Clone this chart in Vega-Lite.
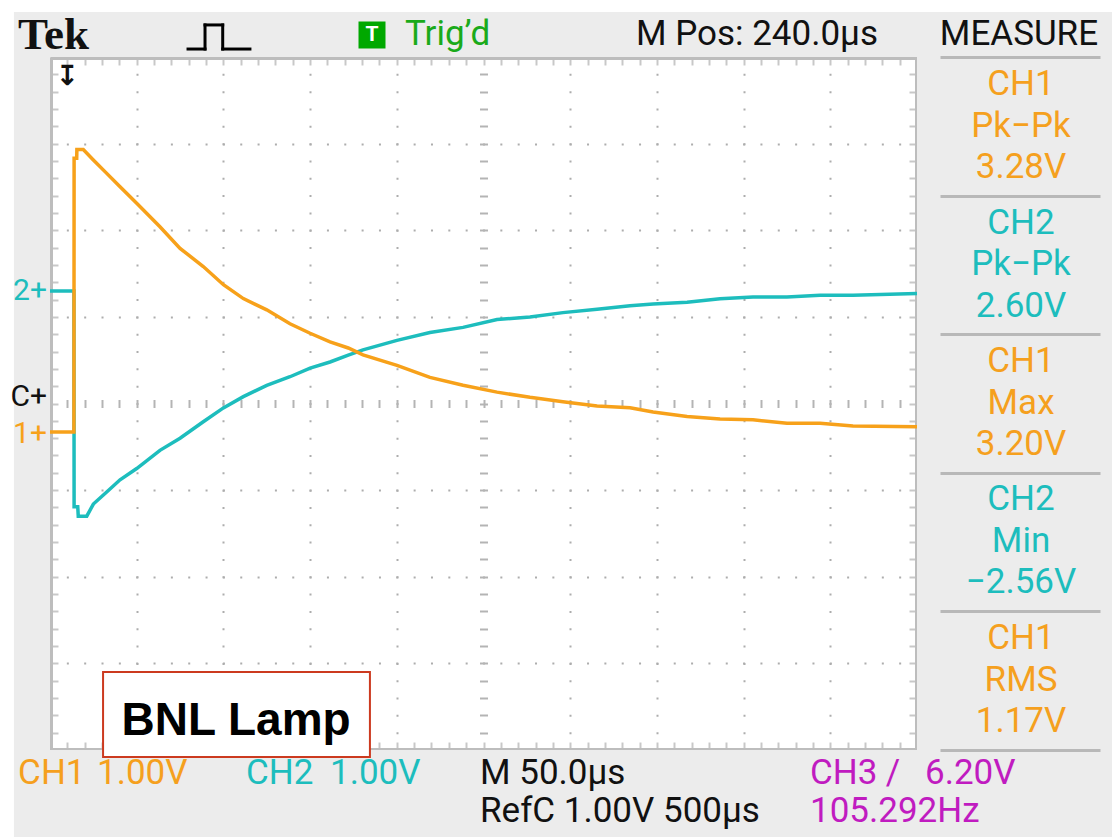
{
"$schema": "https://vega.github.io/schema/vega-lite/v6.json",
"width": 867,
"height": 693,
"autosize": {"type": "none"},
"padding": {"left": 50, "top": 57, "right": 195, "bottom": 87},
"background": "#ffffff",
"config": {"view": {"stroke": null, "fill": "#ffffff"}, "axis": {"labels": false, "grid": false, "domain": false, "ticks": false}},
"data": {"values": [{}]},
"datasets": {
"ch1": [
{"t": -10, "v": 0}, {"t": 3.8, "v": 0}, {"t": 3.9, "v": 3.16}, {"t": 5.4, "v": 3.16}, {"t": 5.5, "v": 3.26}, {"t": 9.2, "v": 3.26},
{"t": 15.0, "v": 3.14}, {"t": 22.0, "v": 3.00}, {"t": 30.4, "v": 2.83}, {"t": 40.0, "v": 2.64}, {"t": 53.4, "v": 2.37},
{"t": 65.0, "v": 2.12}, {"t": 78.4, "v": 1.91}, {"t": 90.0, "v": 1.70}, {"t": 101.5, "v": 1.54}, {"t": 115.0, "v": 1.41},
{"t": 128.4, "v": 1.25}, {"t": 140.0, "v": 1.14}, {"t": 151.5, "v": 1.04}, {"t": 162.0, "v": 0.97}, {"t": 170.5, "v": 0.89},
{"t": 190.1, "v": 0.77}, {"t": 209.1, "v": 0.63}, {"t": 228.2, "v": 0.54}, {"t": 247.8, "v": 0.46}, {"t": 266.8, "v": 0.40},
{"t": 285.8, "v": 0.35}, {"t": 305.5, "v": 0.30}, {"t": 324.5, "v": 0.28}, {"t": 337.8, "v": 0.23}, {"t": 357.4, "v": 0.18},
{"t": 376.4, "v": 0.15}, {"t": 395.4, "v": 0.14}, {"t": 415.0, "v": 0.10}, {"t": 434.1, "v": 0.10}, {"t": 453.1, "v": 0.07},
{"t": 490, "v": 0.06}
],
"ch2": [
{"t": -10, "v": 0}, {"t": 3.8, "v": 0}, {"t": 3.9, "v": -2.49}, {"t": 6.0, "v": -2.49}, {"t": 6.3, "v": -2.60}, {"t": 11.2, "v": -2.60},
{"t": 15.0, "v": -2.46}, {"t": 22.7, "v": -2.32}, {"t": 30.4, "v": -2.18}, {"t": 40.0, "v": -2.05}, {"t": 53.4, "v": -1.84},
{"t": 65.0, "v": -1.70}, {"t": 78.4, "v": -1.51}, {"t": 90.0, "v": -1.35}, {"t": 101.5, "v": -1.22}, {"t": 115.0, "v": -1.09},
{"t": 128.4, "v": -0.99}, {"t": 140.0, "v": -0.89}, {"t": 151.5, "v": -0.82}, {"t": 162.0, "v": -0.74}, {"t": 170.5, "v": -0.68},
{"t": 190.1, "v": -0.57}, {"t": 209.1, "v": -0.48}, {"t": 228.2, "v": -0.42}, {"t": 247.8, "v": -0.33}, {"t": 266.8, "v": -0.30},
{"t": 285.8, "v": -0.25}, {"t": 305.5, "v": -0.21}, {"t": 324.5, "v": -0.17}, {"t": 337.8, "v": -0.15}, {"t": 357.4, "v": -0.13},
{"t": 376.4, "v": -0.09}, {"t": 395.4, "v": -0.07}, {"t": 415.0, "v": -0.07}, {"t": 434.1, "v": -0.05}, {"t": 453.1, "v": -0.05},
{"t": 490, "v": -0.03}
],
"labels": [
{"text": "Trig’d", "t": 194.7, "d": 4.139, "ch": "trig", "area": "status"},
{"text": "M Pos: 240.0µs", "t": 327.9, "d": 4.139, "ch": "scope", "area": "status"},
{"text": "CH1", "t": -28.4, "d": -4.393, "ch": "CH1", "area": "status"},
{"text": "1.00V", "t": 17.1, "d": -4.393, "ch": "CH1", "area": "status"},
{"text": "CH2", "t": 103.0, "d": -4.393, "ch": "CH2", "area": "status"},
{"text": "1.00V", "t": 151.5, "d": -4.393, "ch": "CH2", "area": "status"},
{"text": "M 50.0µs", "t": 238.0, "d": -4.393, "ch": "scope", "area": "status"},
{"text": "RefC 1.00V 500µs", "t": 238.0, "d": -4.831, "ch": "scope", "area": "status"},
{"text": "CH3", "t": 428.3, "d": -4.393, "ch": "CH3", "area": "status"},
{"text": "/", "t": 472.0, "d": -4.393, "ch": "CH3", "area": "status"},
{"text": "6.20V", "t": 494.6, "d": -4.393, "ch": "CH3", "area": "status"},
{"text": "105.292Hz", "t": 428.3, "d": -4.831, "ch": "CH3", "area": "status"},
{"text": "MEASURE", "t": 548.8, "d": 4.139, "ch": "scope", "area": "measure"},
{"text": "CH1", "t": 550, "d": 3.561, "ch": "CH1", "area": "measure"},
{"text": "Pk−Pk", "t": 550, "d": 3.077, "ch": "CH1", "area": "measure"},
{"text": "3.28V", "t": 550, "d": 2.603, "ch": "CH1", "area": "measure"},
{"text": "CH2", "t": 550, "d": 1.962, "ch": "CH2", "area": "measure"},
{"text": "Pk−Pk", "t": 550, "d": 1.478, "ch": "CH2", "area": "measure"},
{"text": "2.60V", "t": 550, "d": 1.004, "ch": "CH2", "area": "measure"},
{"text": "CH1", "t": 550, "d": 0.364, "ch": "CH1", "area": "measure"},
{"text": "Max", "t": 550, "d": -0.121, "ch": "CH1", "area": "measure"},
{"text": "3.20V", "t": 550, "d": -0.595, "ch": "CH1", "area": "measure"},
{"text": "CH2", "t": 550, "d": -1.235, "ch": "CH2", "area": "measure"},
{"text": "Min", "t": 550, "d": -1.720, "ch": "CH2", "area": "measure"},
{"text": "−2.56V", "t": 550, "d": -2.193, "ch": "CH2", "area": "measure"},
{"text": "CH1", "t": 550, "d": -2.834, "ch": "CH1", "area": "measure"},
{"text": "RMS", "t": 550, "d": -3.319, "ch": "CH1", "area": "measure"},
{"text": "1.17V", "t": 550, "d": -3.792, "ch": "CH1", "area": "measure"},
{"text": "C+", "t": -10, "d": 0.05, "ch": "scope", "area": "marker"}
]
},
"layer": [
{"mark": {"type": "rect", "fill": "#ececec"},
 "encoding": {
  "x": {"datum": -30.8, "type": "quantitative", "scale": {"domain": [-10, 490], "nice": false, "zero": false}, "axis": null},
  "x2": {"datum": 603},
  "y": {"datum": 4.52, "type": "quantitative", "scale": {"domain": [-4, 4], "nice": false, "zero": false}, "axis": null},
  "y2": {"datum": 4}}},
{"mark": {"type": "rect", "fill": "#ececec"},
 "encoding": {
  "x": {"datum": -30.8, "type": "quantitative", "scale": {"domain": [-10, 490], "nice": false, "zero": false}, "axis": null},
  "x2": {"datum": 603},
  "y": {"datum": -4, "type": "quantitative", "scale": {"domain": [-4, 4], "nice": false, "zero": false}, "axis": null},
  "y2": {"datum": -5.1}}},
{"mark": {"type": "rect", "fill": "#ececec"},
 "encoding": {
  "x": {"datum": -30.8, "type": "quantitative", "scale": {"domain": [-10, 490], "nice": false, "zero": false}, "axis": null},
  "x2": {"datum": -10},
  "y": {"datum": 4, "type": "quantitative", "scale": {"domain": [-4, 4], "nice": false, "zero": false}, "axis": null},
  "y2": {"datum": -4}}},
{"mark": {"type": "rect", "fill": "#ececec"},
 "encoding": {
  "x": {"datum": 490, "type": "quantitative", "scale": {"domain": [-10, 490], "nice": false, "zero": false}, "axis": null},
  "x2": {"datum": 603},
  "y": {"datum": 4, "type": "quantitative", "scale": {"domain": [-4, 4], "nice": false, "zero": false}, "axis": null},
  "y2": {"datum": -4}}},
{"mark": {"type": "point", "opacity": 0},
 "encoding": {
  "x": {"datum": 0, "type": "quantitative", "scale": {"domain": [-10, 490], "nice": false, "zero": false},
   "axis": {"orient": "bottom", "title": null, "grid": true, "values": [40, 90, 140, 190, 290, 340, 390, 440], "gridColor": "#adadad", "gridWidth": 2, "gridDash": [2, 15.325], "gridDashOffset": 1}},
  "y": {"datum": 0, "type": "quantitative", "scale": {"domain": [-4, 4], "nice": false, "zero": false},
   "axis": {"orient": "left", "title": null, "grid": true, "values": [-3, -2, -1, 1, 2, 3], "gridColor": "#adadad", "gridWidth": 2, "gridDash": [2, 15.34], "gridDashOffset": 1}}}},
{"mark": {"type": "point", "opacity": 0},
 "encoding": {
  "x": {"datum": 0, "type": "quantitative", "scale": {"domain": [-10, 490], "nice": false, "zero": false},
   "axis": {"orient": "bottom", "title": null, "offset": -350.5, "ticks": true, "tickSize": 8, "tickWidth": 2, "tickColor": "#b4b4b4",
    "values": [0,10,20,30,40,50,60,70,80,90,100,110,120,130,140,150,160,170,180,190,200,210,220,230,240,250,260,270,280,290,300,310,320,330,340,350,360,370,380,390,400,410,420,430,440,450,460,470,480]}},
  "y": {"datum": 0, "type": "quantitative", "scale": {"domain": [-4, 4], "nice": false, "zero": false},
   "axis": {"orient": "left", "title": null, "offset": -437.5, "ticks": true, "tickSize": 8, "tickWidth": 2, "tickColor": "#b4b4b4",
    "values": [-3.8,-3.6,-3.4,-3.2,-3,-2.8,-2.6,-2.4,-2.2,-2,-1.8,-1.6,-1.4,-1.2,-1,-0.8,-0.6,-0.4,-0.2,0,0.2,0.4,0.6,0.8,1,1.2,1.4,1.6,1.8,2,2.2,2.4,2.6,2.8,3,3.2,3.4,3.6,3.8]}}}},
{"mark": {"type": "point", "opacity": 0},
 "encoding": {
  "x": {"datum": 0, "type": "quantitative", "scale": {"domain": [-10, 490], "nice": false, "zero": false},
   "axis": {"orient": "bottom", "title": null, "domain": true, "domainColor": "#bdbdbd", "domainWidth": 5, "ticks": true, "tickSize": -8, "tickWidth": 2, "tickColor": "#c8c8c8",
    "values": [0,10,20,30,40,50,60,70,80,90,100,110,120,130,140,150,160,170,180,190,200,210,220,230,240,250,260,270,280,290,300,310,320,330,340,350,360,370,380,390,400,410,420,430,440,450,460,470,480]}},
  "y": {"datum": 0, "type": "quantitative", "scale": {"domain": [-4, 4], "nice": false, "zero": false},
   "axis": {"orient": "left", "title": null, "domain": true, "domainColor": "#bdbdbd", "domainWidth": 5, "ticks": true, "tickSize": -8, "tickWidth": 2, "tickColor": "#c8c8c8",
    "values": [-3.8,-3.6,-3.4,-3.2,-3,-2.8,-2.6,-2.4,-2.2,-2,-1.8,-1.6,-1.4,-1.2,-1,-0.8,-0.6,-0.4,-0.2,0,0.2,0.4,0.6,0.8,1,1.2,1.4,1.6,1.8,2,2.2,2.4,2.6,2.8,3,3.2,3.4,3.6,3.8]}}}},
{"mark": {"type": "point", "opacity": 0},
 "encoding": {
  "x": {"datum": 0, "type": "quantitative", "scale": {"domain": [-10, 490], "nice": false, "zero": false},
   "axis": {"orient": "top", "title": null, "domain": true, "domainColor": "#bdbdbd", "domainWidth": 5, "ticks": true, "tickSize": -8, "tickWidth": 2, "tickColor": "#c8c8c8",
    "values": [0,10,20,30,40,50,60,70,80,90,100,110,120,130,140,150,160,170,180,190,200,210,220,230,240,250,260,270,280,290,300,310,320,330,340,350,360,370,380,390,400,410,420,430,440,450,460,470,480]}},
  "y": {"datum": 0, "type": "quantitative", "scale": {"domain": [-4, 4], "nice": false, "zero": false},
   "axis": {"orient": "right", "title": null, "domain": true, "domainColor": "#bdbdbd", "domainWidth": 5, "ticks": true, "tickSize": -8, "tickWidth": 2, "tickColor": "#c8c8c8",
    "values": [-3.8,-3.6,-3.4,-3.2,-3,-2.8,-2.6,-2.4,-2.2,-2,-1.8,-1.6,-1.4,-1.2,-1,-0.8,-0.6,-0.4,-0.2,0,0.2,0.4,0.6,0.8,1,1.2,1.4,1.6,1.8,2,2.2,2.4,2.6,2.8,3,3.2,3.4,3.6,3.8]}}}},
{"mark": {"type": "point", "opacity": 0},
 "encoding": {
  "x": {"datum": 0, "type": "quantitative", "scale": {"domain": [-10, 490], "nice": false, "zero": false}, "axis": null},
  "y": {"datum": 0, "type": "quantitative", "scale": {"domain": [-4, 4], "nice": false, "zero": false},
   "axis": {"orient": "right", "title": null, "offset": 23, "zindex": 1, "ticks": true, "tickSize": 160, "tickWidth": 3, "tickColor": "#b8b8b8", "values": [4, 2.4, 0.8, -0.8, -2.4, -4]}}}},
{"mark": {"type": "rule", "color": "#000000", "strokeWidth": 3, "strokeCap": "square"},
 "encoding": {
  "x": {"datum": 69.6, "type": "quantitative", "scale": {"domain": [-10, 490], "nice": false, "zero": false}, "axis": null},
  "x2": {"datum": 79.4},
  "y": {"datum": 4.092, "type": "quantitative", "scale": {"domain": [-4, 4], "nice": false, "zero": false}, "axis": null}}},
{"mark": {"type": "rule", "color": "#000000", "strokeWidth": 3, "strokeCap": "square"},
 "encoding": {
  "x": {"datum": 79.4, "type": "quantitative", "scale": {"domain": [-10, 490], "nice": false, "zero": false}, "axis": null},
  "y": {"datum": 4.092, "type": "quantitative", "scale": {"domain": [-4, 4], "nice": false, "zero": false}, "axis": null},
  "y2": {"datum": 4.37}}},
{"mark": {"type": "rule", "color": "#000000", "strokeWidth": 3, "strokeCap": "square"},
 "encoding": {
  "x": {"datum": 79.4, "type": "quantitative", "scale": {"domain": [-10, 490], "nice": false, "zero": false}, "axis": null},
  "x2": {"datum": 89.6},
  "y": {"datum": 4.37, "type": "quantitative", "scale": {"domain": [-4, 4], "nice": false, "zero": false}, "axis": null}}},
{"mark": {"type": "rule", "color": "#000000", "strokeWidth": 3, "strokeCap": "square"},
 "encoding": {
  "x": {"datum": 89.6, "type": "quantitative", "scale": {"domain": [-10, 490], "nice": false, "zero": false}, "axis": null},
  "y": {"datum": 4.092, "type": "quantitative", "scale": {"domain": [-4, 4], "nice": false, "zero": false}, "axis": null},
  "y2": {"datum": 4.37}}},
{"mark": {"type": "rule", "color": "#000000", "strokeWidth": 3, "strokeCap": "square"},
 "encoding": {
  "x": {"datum": 89.6, "type": "quantitative", "scale": {"domain": [-10, 490], "nice": false, "zero": false}, "axis": null},
  "x2": {"datum": 105.3},
  "y": {"datum": 4.092, "type": "quantitative", "scale": {"domain": [-4, 4], "nice": false, "zero": false}, "axis": null}}},
{"mark": {"type": "point", "shape": "square", "size": 729, "filled": true, "color": "#00a800", "opacity": 1},
 "encoding": {
  "x": {"datum": 175.7, "type": "quantitative", "scale": {"domain": [-10, 490], "nice": false, "zero": false}, "axis": null},
  "y": {"datum": 4.254, "type": "quantitative", "scale": {"domain": [-4, 4], "nice": false, "zero": false}, "axis": null}}},
{"mark": {"type": "text", "text": "T", "font": "Roboto", "fontWeight": "bold", "fontSize": 21, "align": "center", "baseline": "middle", "color": "#ffffff"},
 "encoding": {
  "x": {"datum": 175.7, "type": "quantitative", "scale": {"domain": [-10, 490], "nice": false, "zero": false}, "axis": null},
  "y": {"datum": 4.254, "type": "quantitative", "scale": {"domain": [-4, 4], "nice": false, "zero": false}, "axis": null}}},
{"mark": {"type": "text", "text": "Tek", "font": "Liberation Serif", "fontWeight": "bold", "fontSize": 45, "align": "left", "baseline": "alphabetic", "color": "#111111"},
 "encoding": {
  "x": {"datum": -28.4, "type": "quantitative", "scale": {"domain": [-10, 490], "nice": false, "zero": false}, "axis": null},
  "y": {"datum": 4.092, "type": "quantitative", "scale": {"domain": [-4, 4], "nice": false, "zero": false}, "axis": null}}},
{"mark": {"type": "text", "text": "↧", "font": "DejaVu Sans", "fontWeight": "bold", "fontSize": 28, "align": "center", "baseline": "middle", "color": "#111111"},
 "encoding": {
  "x": {"datum": 0, "type": "quantitative", "scale": {"domain": [-10, 490], "nice": false, "zero": false}, "axis": null},
  "y": {"datum": 3.77, "type": "quantitative", "scale": {"domain": [-4, 4], "nice": false, "zero": false}, "axis": null}}},
{"data": {"name": "ch2"},
 "encoding": {
  "x": {"field": "t", "type": "quantitative", "scale": {"domain": [-10, 490], "nice": false, "zero": false}, "axis": null},
  "y": {"field": "v", "type": "quantitative", "scale": {"domain": [-5.299, 2.701], "nice": false, "zero": false}, "axis": null}},
 "layer": [
  {"mark": {"type": "line", "color": "#1dbdbd", "strokeWidth": 3.5, "strokeJoin": "miter"}},
  {"transform": [{"filter": {"field": "t", "equal": -10}}],
   "mark": {"type": "text", "text": "2+", "font": "Roboto", "fontSize": 30, "align": "right", "baseline": "middle", "dx": -3, "color": "#1dbdbd"}}
 ]},
{"data": {"name": "ch1"},
 "encoding": {
  "x": {"field": "t", "type": "quantitative", "scale": {"domain": [-10, 490], "nice": false, "zero": false}, "axis": null},
  "y": {"field": "v", "type": "quantitative", "scale": {"domain": [-3.671, 4.329], "nice": false, "zero": false}, "axis": null}},
 "layer": [
  {"mark": {"type": "line", "color": "#f7a11a", "strokeWidth": 3.5, "strokeJoin": "miter"}},
  {"transform": [{"filter": {"field": "t", "equal": -10}}],
   "mark": {"type": "text", "text": "1+", "font": "Roboto", "fontSize": 30, "align": "right", "baseline": "middle", "dx": -3, "dy": 2, "color": "#f7a11a"}}
 ]},
{"data": {"name": "labels"},
 "transform": [{"filter": {"field": "area", "equal": "status"}}],
 "mark": {"type": "text", "font": "Roboto", "fontSize": 35, "align": "left", "baseline": "alphabetic"},
 "encoding": {
  "x": {"field": "t", "type": "quantitative", "scale": {"domain": [-10, 490], "nice": false, "zero": false}, "axis": null},
  "y": {"field": "d", "type": "quantitative", "scale": {"domain": [-4, 4], "nice": false, "zero": false}, "axis": null},
  "text": {"field": "text"},
  "color": {"field": "ch", "type": "nominal", "scale": {"domain": ["CH1", "CH2", "CH3", "scope", "trig"], "range": ["#f5a01e", "#1dbdbd", "#c01bc0", "#111111", "#1aaa1a"]}, "legend": null}}},
{"data": {"name": "labels"},
 "transform": [{"filter": {"field": "area", "equal": "measure"}}],
 "mark": {"type": "text", "font": "Roboto", "fontSize": 35, "align": "center", "baseline": "alphabetic"},
 "encoding": {
  "x": {"field": "t", "type": "quantitative", "scale": {"domain": [-10, 490], "nice": false, "zero": false}, "axis": null},
  "y": {"field": "d", "type": "quantitative", "scale": {"domain": [-4, 4], "nice": false, "zero": false}, "axis": null},
  "text": {"field": "text"},
  "color": {"field": "ch", "type": "nominal", "scale": {"domain": ["CH1", "CH2", "CH3", "scope", "trig"], "range": ["#f5a01e", "#1dbdbd", "#c01bc0", "#111111", "#1aaa1a"]}, "legend": null}}},
{"data": {"name": "labels"},
 "transform": [{"filter": {"field": "area", "equal": "marker"}}],
 "mark": {"type": "text", "font": "Roboto", "fontSize": 30, "align": "right", "baseline": "middle", "dx": -3, "dy": -2},
 "encoding": {
  "x": {"field": "t", "type": "quantitative", "scale": {"domain": [-10, 490], "nice": false, "zero": false}, "axis": null},
  "y": {"field": "d", "type": "quantitative", "scale": {"domain": [-4, 4], "nice": false, "zero": false}, "axis": null},
  "text": {"field": "text"},
  "color": {"field": "ch", "type": "nominal", "scale": {"domain": ["CH1", "CH2", "CH3", "scope", "trig"], "range": ["#f5a01e", "#1dbdbd", "#c01bc0", "#111111", "#1aaa1a"]}, "legend": null}}},
{"mark": {"type": "rect", "fill": "#ffffff", "stroke": "#cc3a1f", "strokeWidth": 2},
 "encoding": {
  "x": {"datum": 20.6, "type": "quantitative", "scale": {"domain": [-10, 490], "nice": false, "zero": false}, "axis": null},
  "x2": {"datum": 174.5},
  "y": {"datum": -3.10, "type": "quantitative", "scale": {"domain": [-4, 4], "nice": false, "zero": false}, "axis": null},
  "y2": {"datum": -4.08}}},
{"mark": {"type": "text", "text": "BNL Lamp", "font": "Liberation Sans", "fontWeight": "bold", "fontSize": 46, "align": "center", "baseline": "alphabetic", "color": "#000000"},
 "encoding": {
  "x": {"datum": 97.3, "type": "quantitative", "scale": {"domain": [-10, 490], "nice": false, "zero": false}, "axis": null},
  "y": {"datum": -3.827, "type": "quantitative", "scale": {"domain": [-4, 4], "nice": false, "zero": false}, "axis": null}}}
],
"resolve": {"scale": {"y": "independent"}, "axis": {"x": "independent", "y": "independent"}}
}
